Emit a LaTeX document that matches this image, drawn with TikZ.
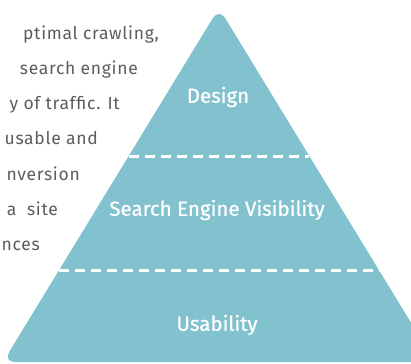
\documentclass[tikz,border=0pt]{standalone}
\usepackage{fontspec}
\usetikzlibrary{calc}
\setmainfont{Fira Sans}
\newfontfamily\bodyfont[LetterSpace=4]{Fira Sans}
\newfontfamily\labelfont[FakeBold=0.6]{Fira Sans}
\definecolor{pyr}{HTML}{82C2CF}
\definecolor{bodygrey}{HTML}{5C5C5C}
\begin{document}
\begin{tikzpicture}[x=1pt,y=-1pt,
  bodyline/.style={anchor=base east,inner sep=0pt,font=\bodyfont\fontsize{17.5}{17.5}\selectfont,text=bodygrey},
  layerlabel/.style={inner sep=0pt,font=\labelfont\fontsize{20.5}{20.5}\selectfont,text=white},
  divider/.style={draw=white,line width=3pt,dash pattern=on 10pt off 6pt}]
\useasboundingbox (0,0) rectangle (411,363);
% body text (behind the pyramid)
\node[bodyline] (t1) at (159,40) {ptimal crawling,};
\node[bodyline] (t2) at (138,75) {search engine};
\node[bodyline] (t3) at (120,110) {y of traffic. It};
\node[bodyline] (t4) at (98,145) {usable and};
\node[bodyline] (t5) at (80,180) {nversion};
\node[bodyline] (t6) at (58,215) {a\ \ site};
\node[bodyline] (t7) at (40,250) {nces};
% pyramid
\coordinate (apex) at (219,8);
\coordinate (bl) at (3,362);
\coordinate (br) at (435,362);
\fill[pyr,rounded corners=12pt] (apex) -- (br) -- (bl) -- cycle;
% dividers
\coordinate (d1l) at ($(apex)!0.4181!(bl)$);
\coordinate (d1r) at ($(apex)!0.4181!(br)$);
\coordinate (d2l) at ($(apex)!0.7429!(bl)$);
\coordinate (d2r) at ($(apex)!0.7429!(br)$);
\draw[divider] (d1l) -- (d1r);
\draw[divider] (d2l) -- (d2r);
% labels
\node[layerlabel] (design) at (218,97) {Design};
\node[layerlabel] (sev) at (217,210) {Search Engine Visibility};
\node[layerlabel] (usab) at (217,325) {Usability};
\end{tikzpicture}
\end{document}
